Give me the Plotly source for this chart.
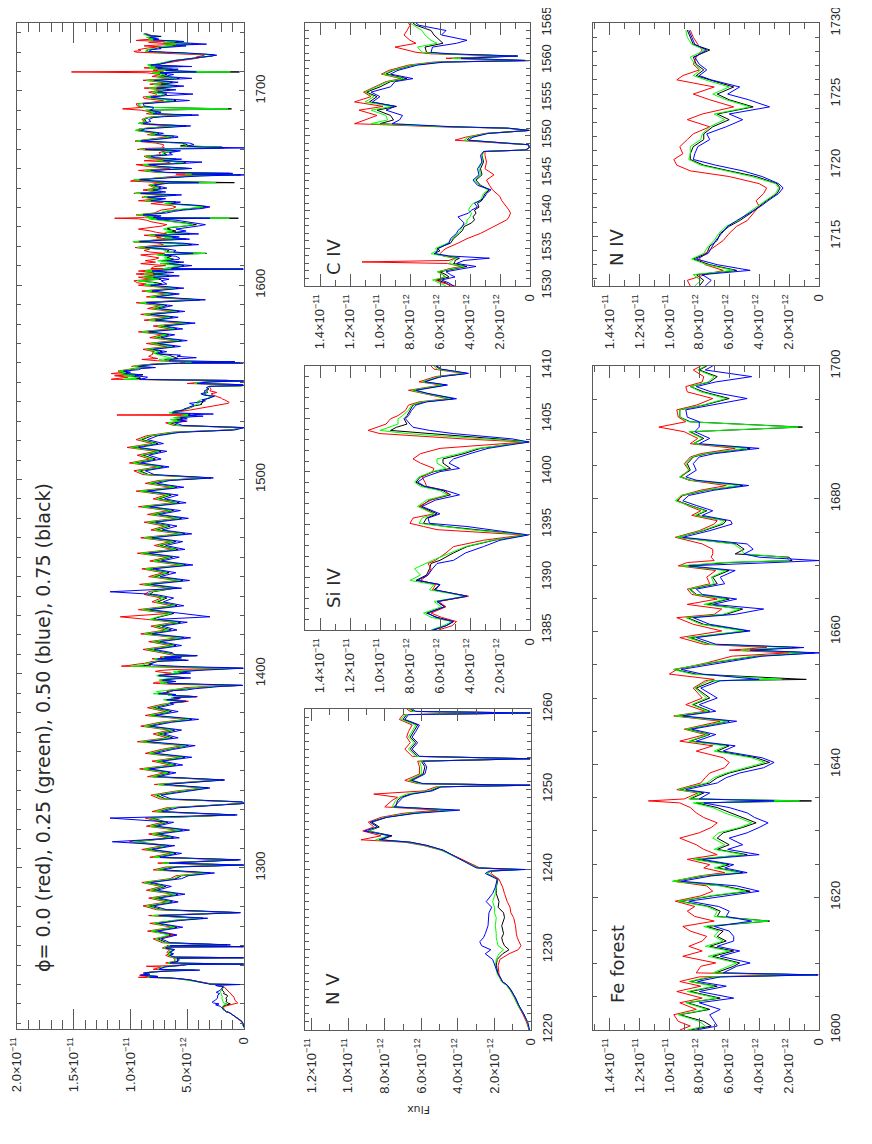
#!/usr/bin/env python3
import plotly.graph_objects as go

# Flux values are in units of 1e-12 (tick labels carry the exponent).

# ---- N V window (1220-1260 A) ----
nv_wave = [1220.0, 1221.0, 1222.0, 1223.0, 1224.0, 1225.0, 1225.6, 1226.0, 1227.0, 1228.0, 1228.8,
           1229.5, 1230.0, 1230.5, 1231.0, 1231.5, 1232.0, 1233.0, 1234.0, 1234.6, 1235.3, 1236.0,
           1237.0, 1237.8, 1238.8, 1239.5, 1239.8, 1240.0, 1240.2, 1240.9, 1241.5, 1242.4, 1243.0,
           1243.4, 1243.7, 1244.2, 1244.8, 1245.3, 1245.9, 1246.5, 1247.0, 1247.4, 1247.8, 1248.6,
           1249.0, 1249.4, 1249.8, 1250.3, 1250.5, 1250.7, 1251.1, 1251.9, 1252.8, 1253.5, 1253.8,
           1254.1, 1255.0, 1255.8, 1256.5, 1257.2, 1258.0, 1258.7, 1259.3, 1259.5, 1259.7, 1260.0]
nv_black = [0.10, 0.20, 0.40, 0.65, 0.85, 1.10, 1.30, 1.55, 1.80, 1.90, 1.85,
            1.55, 1.20, 1.45, 1.55, 1.60, 1.50, 1.60, 1.45, 1.50, 1.80, 1.75,
            1.90, 1.90, 1.80, 2.40, 2.20, 0.60, 2.90, 3.50, 4.05, 4.80, 5.70,
            6.60, 8.20, 7.60, 8.90, 8.30, 8.70, 7.90, 6.50, 4.40, 7.40, 7.30,
            7.10, 6.60, 5.50, 5.00, 0.05, 6.00, 6.60, 5.90, 5.80, 6.00, 0.05,
            6.20, 6.60, 6.30, 6.60, 6.40, 6.20, 7.00, 6.80, 0.05, 6.40, 6.60]
nv_red = [0.10, 0.25, 0.45, 0.70, 0.90, 1.15, 1.35, 1.60, 1.75, 1.80, 1.70,
          1.20, 0.70, 0.55, 0.65, 0.75, 0.80, 0.85, 0.95, 1.10, 1.15, 1.30,
          1.45, 1.55, 1.75, 2.20, 2.10, 1.30, 2.80, 3.40, 4.00, 4.90, 5.90,
          6.90, 9.30, 8.20, 9.20, 8.60, 8.90, 8.20, 7.00, 5.10, 8.00, 7.60,
          7.30, 8.60, 5.80, 5.20, 0.05, 6.20, 6.90, 6.10, 6.10, 6.20, 0.05,
          6.50, 6.90, 6.60, 6.80, 6.70, 6.50, 7.20, 7.00, 0.05, 6.60, 6.80]
nv_green = [0.10, 0.20, 0.40, 0.70, 0.90, 1.15, 1.35, 1.60, 1.85, 1.95, 1.90,
            1.75, 1.50, 1.80, 1.85, 1.90, 1.90, 1.95, 1.90, 2.00, 2.00, 2.10,
            1.95, 1.90, 1.85, 2.40, 2.20, 0.50, 2.90, 3.55, 4.10, 4.90, 5.80,
            6.80, 8.50, 7.80, 8.90, 8.40, 8.80, 8.00, 6.70, 4.20, 7.60, 7.40,
            7.20, 6.80, 5.60, 5.10, 0.05, 6.10, 6.70, 6.00, 6.00, 6.10, 0.05,
            6.30, 6.70, 6.40, 6.70, 6.50, 6.30, 7.10, 6.90, 0.05, 6.50, 6.70]
nv_blue = [0.08, 0.18, 0.40, 0.65, 0.85, 1.10, 1.30, 1.55, 1.80, 1.95, 2.10,
           2.50, 2.20, 2.70, 2.80, 2.60, 2.50, 2.35, 2.30, 2.30, 2.15, 2.45,
           2.10, 1.95, 1.85, 2.50, 2.30, 0.30, 3.00, 3.60, 4.10, 4.80, 5.70,
           6.60, 8.30, 7.70, 9.10, 8.40, 8.80, 7.90, 6.30, 3.90, 7.50, 7.20,
           7.00, 6.50, 5.40, 4.90, 0.05, 5.90, 6.50, 5.80, 5.70, 5.90, 0.05,
           6.10, 6.50, 6.20, 6.50, 6.30, 6.10, 6.90, 6.70, 0.05, 6.30, 6.50]

# ---- Si IV window (1385-1410 A) ----
si_wave = [1385.0, 1385.4, 1385.8, 1386.2, 1386.6, 1387.2, 1387.7, 1388.2, 1388.8, 1389.3,
           1389.7, 1390.2, 1390.8, 1391.3, 1391.6, 1392.3, 1392.9, 1393.5, 1394.0, 1394.5,
           1394.8, 1395.1, 1395.6, 1396.0, 1396.7, 1397.3, 1397.8, 1398.2, 1398.6, 1399.0,
           1399.5, 1400.0, 1400.3, 1400.8, 1401.2, 1401.7, 1402.2, 1402.6, 1402.8, 1403.1,
           1403.6, 1403.9, 1404.2, 1404.5, 1405.0, 1405.3, 1405.8, 1406.3, 1406.6, 1406.9,
           1407.4, 1407.7, 1408.2, 1408.5, 1409.0, 1409.3, 1409.7, 1410.0]
si_black = [6.4, 5.6, 5.1, 6.2, 6.9, 5.7, 6.2, 4.2, 6.4, 6.0,
            7.6, 6.9, 6.7, 6.6, 6.0, 5.1, 4.2, 2.4, 0.2, 3.8,
            5.6, 7.1, 6.9, 6.2, 7.3, 6.7, 5.3, 5.8, 7.1, 7.6,
            7.3, 6.4, 5.3, 5.8, 5.8, 4.4, 3.3, 1.3, 0.1, 2.2,
            6.7, 9.3, 8.9, 8.2, 8.4, 8.2, 8.0, 7.8, 7.1, 5.1,
            6.9, 7.8, 5.6, 7.1, 6.0, 4.2, 6.0, 6.3]
si_red = [6.1, 5.2, 4.9, 5.9, 6.6, 5.6, 6.1, 4.1, 6.5, 6.3,
          7.3, 6.8, 6.6, 6.8, 6.3, 5.6, 5.1, 3.1, 0.4, 6.2,
          7.1, 8.0, 7.8, 6.4, 7.4, 6.6, 5.5, 5.6, 6.9, 7.0,
          7.2, 6.5, 6.4, 7.3, 7.8, 7.3, 6.0, 2.4, 0.3, 4.5,
          10.0, 10.8, 10.2, 9.6, 9.3, 8.8, 8.3, 8.1, 7.4, 5.5,
          7.1, 8.1, 5.9, 7.4, 6.3, 4.4, 6.4, 6.6]
si_green = [6.6, 5.8, 5.2, 6.6, 7.1, 5.9, 6.4, 4.3, 6.7, 6.4,
            8.0, 7.3, 7.7, 7.0, 6.5, 5.3, 4.3, 2.5, 0.2, 4.0,
            5.9, 7.4, 7.2, 6.4, 7.5, 6.9, 5.5, 6.0, 7.3, 7.7,
            7.4, 6.5, 5.6, 6.2, 6.2, 4.7, 3.5, 1.4, 0.1, 3.0,
            8.2, 10.0, 9.4, 8.8, 8.8, 8.5, 8.1, 7.9, 7.2, 5.3,
            7.0, 7.9, 5.8, 7.2, 6.1, 4.3, 6.2, 6.4]
si_blue = [6.5, 5.6, 5.1, 6.3, 6.8, 5.7, 6.2, 4.2, 6.3, 6.0,
           7.5, 6.8, 6.5, 6.2, 5.1, 4.3, 3.1, 2.0, 0.1, 2.8,
           4.2, 6.7, 6.8, 6.0, 7.2, 6.3, 4.7, 5.6, 7.0, 7.5,
           7.0, 6.0, 4.7, 5.4, 5.1, 4.0, 2.8, 1.0, 0.05, 1.2,
           5.1, 6.7, 7.8, 8.0, 8.3, 8.1, 7.9, 7.6, 6.9, 4.9,
           6.8, 7.6, 5.5, 7.0, 5.9, 4.1, 5.9, 6.2]

# ---- C IV window (1530-1565 A) ----
c4_wave = [1530.0, 1530.4, 1530.8, 1531.2, 1531.5, 1531.9, 1532.3, 1532.6, 1533.0, 1533.2,
           1533.4, 1533.7, 1534.0, 1534.3, 1534.7, 1535.0, 1535.7, 1536.3, 1537.0, 1537.4,
           1537.9, 1538.4, 1538.8, 1539.2, 1539.7, 1540.1, 1540.5, 1541.0, 1541.4, 1541.9,
           1542.3, 1542.8, 1543.4, 1544.1, 1544.8, 1545.6, 1546.5, 1547.4, 1547.9, 1548.1,
           1548.4, 1548.8, 1549.0, 1549.4, 1549.8, 1550.3, 1550.7, 1551.0, 1551.2, 1551.6,
           1552.1, 1552.7, 1553.4, 1553.9, 1554.5, 1555.2, 1555.8, 1556.5, 1557.2, 1557.6,
           1558.2, 1558.7, 1559.4, 1559.8, 1560.0, 1560.3, 1560.6, 1560.9, 1561.1, 1561.8,
           1562.3, 1562.7, 1563.4, 1564.0, 1564.7, 1565.0]
c4_black = [5.3, 5.6, 6.2, 5.4, 5.6, 6.0, 5.0, 4.2, 5.1, 5.0,
            5.0, 4.7, 5.6, 6.4, 6.0, 6.2, 5.3, 5.1, 4.7, 4.5,
            4.4, 3.9, 3.7, 3.8, 3.6, 3.7, 3.4, 3.5, 3.2, 3.1,
            3.0, 2.7, 3.3, 3.6, 3.2, 3.3, 3.1, 3.2, 3.1, 0.3,
            0.05, 0.1, 1.6, 4.2, 4.0, 2.9, 0.05, 1.5, 5.6, 10.0,
            9.1, 9.3, 10.2, 8.9, 10.7, 10.2, 10.9, 10.0, 9.3, 8.2,
            9.6, 9.1, 7.8, 6.0, 0.1, 5.0, 0.9, 5.8, 6.9, 7.0,
            5.8, 6.0, 6.4, 6.6, 7.6, 7.8]
c4_red = [5.0, 5.8, 6.3, 5.7, 5.8, 6.1, 5.4, 4.6, 5.5, 11.2,
          5.4, 5.0, 5.8, 6.0, 5.8, 5.6, 4.8, 4.2, 3.3, 2.9,
          2.4, 1.9, 1.55, 1.4, 1.3, 1.4, 1.55, 1.7, 1.9, 2.0,
          2.2, 2.5, 2.7, 2.9, 2.4, 3.0, 2.9, 3.0, 3.0, 0.3,
          0.05, 0.1, 1.8, 5.0, 4.3, 3.0, 0.05, 1.6, 6.2, 11.7,
          11.0, 10.2, 11.4, 9.8, 11.7, 10.6, 11.1, 10.4, 9.6, 8.6,
          9.9, 9.4, 8.1, 6.4, 0.2, 5.6, 1.2, 6.6, 7.6, 9.0,
          7.6, 8.0, 8.4, 8.2, 8.0, 8.1]
c4_green = [5.6, 6.0, 6.5, 5.6, 5.8, 6.2, 5.2, 4.4, 5.4, 5.3,
            5.2, 4.9, 5.9, 6.6, 6.2, 6.3, 5.5, 5.2, 4.8, 4.6,
            4.6, 4.2, 4.2, 4.0, 3.9, 4.1, 4.0, 3.8, 3.3, 3.2,
            3.1, 2.8, 3.4, 3.7, 3.3, 3.4, 3.2, 3.2, 3.1, 0.3,
            0.05, 0.1, 1.7, 4.4, 4.1, 2.9, 0.05, 1.5, 5.8, 10.6,
            9.5, 9.6, 10.6, 9.2, 11.0, 10.4, 11.0, 10.2, 9.5, 8.4,
            9.8, 9.2, 7.9, 6.1, 0.1, 5.2, 1.0, 6.0, 7.2, 7.5,
            6.2, 6.6, 7.0, 7.2, 7.8, 8.0]
c4_blue = [5.1, 5.4, 5.9, 5.0, 5.3, 5.6, 4.5, 3.6, 4.9, 4.7,
           4.4, 2.7, 5.4, 6.3, 6.2, 6.1, 5.4, 5.3, 4.9, 4.8,
           4.5, 4.4, 4.6, 4.8, 4.1, 3.9, 3.5, 3.7, 3.3, 3.0,
           2.9, 2.6, 3.5, 3.8, 3.4, 3.5, 3.2, 3.3, 3.1, 0.3,
           0.05, 0.1, 1.5, 4.1, 3.8, 2.8, 0.05, 1.4, 5.2, 9.2,
           8.7, 8.5, 9.6, 9.0, 10.5, 10.0, 10.6, 9.3, 9.0, 7.8,
           9.3, 8.8, 7.5, 5.7, 0.05, 4.6, 0.8, 5.4, 6.6, 6.5,
           4.9, 4.2, 5.9, 5.6, 7.4, 7.6]

# ---- Fe forest window (1600-1700 A) ----
fe_wave = [1600.0, 1600.6, 1601.3, 1602.3, 1603.1, 1604.1, 1604.8, 1605.8, 1606.6, 1607.3,
           1608.0, 1608.3, 1608.6, 1609.6, 1610.1, 1611.1, 1611.9, 1612.6, 1613.4, 1614.1,
           1614.9, 1615.6, 1616.4, 1617.1, 1617.9, 1618.6, 1619.4, 1620.2, 1620.9, 1621.7,
           1622.4, 1623.2, 1623.7, 1624.4, 1624.9, 1625.7, 1626.4, 1627.2, 1627.9, 1628.9,
           1629.7, 1630.5, 1631.2, 1632.0, 1632.7, 1633.5, 1634.2, 1634.5, 1634.8, 1635.7,
           1636.2, 1637.2, 1638.0, 1638.7, 1639.5, 1640.3, 1641.0, 1642.0, 1642.8, 1643.5,
           1644.5, 1645.3, 1646.5, 1647.3, 1648.0, 1649.0, 1650.0, 1651.5, 1652.6, 1652.8,
           1653.6, 1654.3, 1655.3, 1656.3, 1656.8, 1657.2, 1657.6, 1658.1, 1659.1, 1660.1,
           1661.1, 1662.1, 1662.6, 1663.4, 1664.1, 1664.9, 1665.6, 1666.4, 1667.2, 1668.2,
           1669.2, 1669.9, 1670.4, 1670.7, 1671.2, 1671.7, 1672.4, 1673.2, 1674.2, 1675.2,
           1676.2, 1676.7, 1677.5, 1678.2, 1679.0, 1679.7, 1680.5, 1681.3, 1682.0, 1682.8,
           1683.3, 1684.3, 1685.3, 1686.3, 1686.8, 1687.6, 1688.3, 1689.1, 1690.1, 1690.8,
           1691.6, 1692.3, 1693.4, 1694.1, 1695.1, 1696.1, 1696.9, 1697.6, 1698.4, 1699.4,
           1700.0]
fe_black = [8.6, 7.2, 7.7, 9.3, 7.3, 8.8, 6.6, 8.6, 6.8, 8.6,
            7.1, 0.1, 6.9, 5.7, 5.3, 7.1, 5.7, 7.3, 6.2, 6.8,
            6.4, 7.5, 3.3, 6.8, 6.6, 7.3, 9.3, 7.1, 4.6, 6.4,
            9.7, 7.7, 5.1, 6.8, 6.0, 8.2, 4.8, 6.8, 6.0, 6.8,
            6.4, 5.1, 4.2, 5.1, 6.0, 6.8, 8.2, 0.5, 8.6, 7.7,
            9.3, 7.3, 6.8, 6.0, 4.6, 3.3, 4.2, 6.8, 6.0, 8.6,
            7.3, 8.8, 6.0, 9.5, 7.3, 8.4, 7.3, 8.2, 7.0, 0.85,
            8.2, 9.7, 7.1, 4.2, 0.3, 5.0, 1.3, 7.3, 8.6, 4.8,
            7.7, 8.8, 6.2, 5.1, 7.5, 6.0, 8.2, 8.6, 6.8, 7.1,
            6.0, 9.1, 6.0, 1.8, 2.0, 5.6, 5.0, 5.5, 9.5, 7.7,
            6.4, 6.2, 8.2, 7.5, 8.6, 9.5, 9.1, 7.5, 5.1, 8.6,
            9.3, 8.6, 8.8, 8.4, 7.5, 4.6, 8.4, 7.7, 8.6, 1.1,
            8.6, 9.3, 9.3, 7.7, 6.0, 7.7, 8.6, 7.3, 6.8, 8.0,
            7.5]
fe_red = [9.3, 8.6, 9.4, 9.7, 8.2, 9.3, 7.8, 9.5, 7.9, 9.3,
          8.0, 0.4, 8.2, 7.9, 6.9, 9.1, 7.8, 8.7, 7.8, 7.5,
          8.6, 9.1, 7.0, 8.3, 8.8, 8.3, 9.6, 7.9, 7.1, 7.5,
          9.7, 8.0, 6.3, 7.7, 7.3, 8.8, 6.8, 7.7, 8.2, 9.3,
          8.0, 7.2, 6.8, 7.7, 8.2, 8.6, 9.3, 11.4, 9.0, 8.1,
          9.5, 7.9, 7.6, 7.3, 6.3, 6.0, 6.4, 8.2, 7.1, 9.3,
          7.6, 9.0, 6.6, 9.7, 7.6, 8.9, 7.8, 8.4, 7.6, 7.0,
          10.0, 9.5, 7.5, 5.8, 2.0, 6.0, 3.5, 7.7, 9.3, 6.5,
          8.4, 9.5, 7.0, 6.5, 8.8, 6.8, 8.5, 8.8, 7.3, 7.5,
          6.9, 9.4, 8.8, 7.0, 7.2, 7.1, 7.1, 7.8, 9.6, 8.0,
          7.0, 6.8, 8.5, 7.9, 8.8, 9.4, 9.2, 7.9, 6.2, 8.7,
          9.2, 8.7, 9.0, 8.6, 7.9, 5.6, 8.6, 8.1, 9.0, 10.7,
          8.9, 9.4, 9.5, 8.2, 7.1, 8.8, 8.9, 7.8, 7.7, 8.4,
          7.9]
fe_green = [8.8, 7.6, 8.0, 9.4, 7.5, 8.9, 6.8, 8.8, 7.0, 8.7,
            7.3, 0.2, 7.1, 6.0, 5.5, 7.4, 6.0, 7.6, 6.4, 7.0,
            6.7, 7.7, 3.4, 7.0, 6.8, 7.5, 9.4, 7.3, 4.9, 6.6,
            9.8, 7.9, 5.3, 7.0, 6.2, 8.4, 5.0, 7.0, 6.3, 7.1,
            6.7, 5.3, 4.5, 5.4, 6.3, 7.1, 8.4, 1.3, 8.7, 7.9,
            9.4, 7.5, 7.0, 6.2, 4.9, 3.6, 4.5, 7.0, 6.2, 8.7,
            7.4, 8.9, 6.1, 9.6, 7.4, 8.5, 7.5, 8.3, 7.4, 2.5,
            8.5, 9.7, 7.3, 4.4, 0.6, 5.2, 1.8, 7.4, 8.8, 5.0,
            7.9, 8.9, 6.4, 5.3, 7.7, 6.2, 8.3, 8.7, 7.0, 7.2,
            6.2, 9.2, 6.5, 2.0, 2.2, 5.0, 5.2, 5.7, 9.5, 7.8,
            6.6, 6.3, 8.3, 7.6, 8.7, 9.6, 9.2, 7.6, 5.3, 8.6,
            9.3, 8.7, 8.9, 8.5, 7.6, 4.8, 8.4, 7.8, 8.7, 1.4,
            8.7, 9.3, 9.3, 7.8, 6.2, 7.9, 8.6, 7.4, 7.0, 8.1,
            7.6]
fe_blue = [8.2, 6.8, 7.0, 7.3, 6.6, 8.0, 5.7, 8.0, 6.2, 8.1,
           6.6, 0.05, 6.4, 5.5, 4.6, 6.6, 5.3, 6.8, 5.7, 5.7,
           6.0, 7.0, 4.5, 6.2, 6.0, 6.7, 8.7, 6.0, 4.0, 5.5,
           9.2, 7.2, 4.8, 6.3, 5.7, 7.8, 4.0, 6.1, 5.1, 6.0,
           4.8, 4.0, 3.4, 4.3, 4.8, 6.0, 7.7, 3.0, 8.0, 7.3,
           8.9, 6.8, 6.2, 5.3, 3.7, 3.0, 3.8, 6.4, 5.6, 8.2,
           6.9, 8.5, 5.5, 9.1, 6.9, 8.0, 6.8, 7.9, 6.6, 4.0,
           7.8, 9.2, 6.6, 3.8, 0.0, 4.6, 1.0, 6.9, 8.2, 4.6,
           7.3, 8.4, 5.6, 3.7, 7.1, 5.5, 7.8, 8.2, 6.3, 6.6,
           5.6, 8.7, 3.0, 0.0, 4.0, 5.0, 4.4, 4.8, 9.1, 7.3,
           5.8, 5.9, 7.8, 7.1, 8.2, 9.1, 8.7, 7.0, 4.7, 8.2,
           8.9, 8.2, 8.4, 8.0, 7.0, 4.0, 8.0, 7.3, 8.3, 8.0,
           8.0, 8.8, 8.9, 7.3, 4.8, 7.2, 8.2, 6.9, 4.5, 7.6,
           7.1]

# ---- N IV window (1711.5-1730 A) ----
n4_wave = [1711.5, 1711.9, 1712.3, 1712.6, 1713.0, 1713.4, 1713.8, 1714.3, 1714.7, 1715.2,
           1715.7, 1716.1, 1716.6, 1717.1, 1717.5, 1718.0, 1718.4, 1718.7, 1719.2, 1719.6,
           1720.0, 1720.4, 1720.8, 1721.3, 1721.8, 1722.2, 1722.7, 1723.2, 1723.6, 1724.1,
           1724.6, 1725.0, 1725.5, 1726.0, 1726.3, 1726.7, 1727.1, 1727.6, 1728.1, 1728.5,
           1729.0, 1729.5]
n4_black = [8.0, 7.7, 8.2, 5.5, 7.3, 8.4, 7.5, 7.3, 6.8, 6.6,
            6.0, 5.3, 4.6, 4.0, 3.5, 2.8, 2.6, 2.8, 4.2, 6.0,
            7.7, 8.6, 8.6, 8.4, 7.7, 7.7, 7.1, 6.0, 6.8, 4.4,
            6.0, 6.8, 5.7, 7.3, 8.2, 7.7, 8.2, 8.4, 7.3, 8.4,
            8.6, 8.8]
n4_red = [8.6, 8.8, 7.6, 6.4, 7.6, 8.0, 7.6, 6.9, 6.4, 6.0,
          5.5, 4.8, 4.4, 4.0, 4.2, 3.7, 3.5, 4.0, 6.0, 8.6,
          9.5, 9.7, 9.1, 9.3, 8.8, 8.4, 7.3, 8.8, 7.8, 5.7,
          7.3, 8.4, 7.0, 9.5, 9.1, 8.0, 8.4, 8.2, 7.8, 8.1,
          8.4, 8.6]
n4_green = [8.3, 7.9, 8.4, 5.7, 7.5, 8.5, 7.7, 7.4, 7.0, 6.7,
            6.2, 5.4, 4.8, 4.1, 3.6, 2.9, 2.7, 2.9, 4.5, 6.3,
            7.9, 8.7, 8.6, 8.6, 7.9, 7.8, 7.3, 6.3, 7.0, 4.6,
            6.2, 7.1, 6.0, 7.6, 8.4, 7.9, 8.3, 8.6, 7.6, 8.5,
            8.8, 8.9]
n4_blue = [7.6, 7.2, 7.8, 4.6, 6.8, 8.2, 7.4, 7.1, 6.9, 6.5,
           6.1, 5.5, 4.7, 3.9, 3.4, 2.7, 2.4, 2.7, 3.8, 5.1,
           6.9, 8.4, 8.3, 8.1, 7.3, 7.5, 6.2, 5.1, 6.0, 3.3,
           4.7, 6.1, 5.3, 7.2, 8.0, 7.5, 8.0, 8.3, 7.5, 8.3,
           8.5, 8.7]

# ---- stretches only seen in the full-range panel ----
blue_edge_wave = [1218.0, 1219.0]
blue_edge_black = [0.02, 0.06]
blue_edge_red = [0.02, 0.07]
blue_edge_green = [0.02, 0.06]
blue_edge_blue = [0.02, 0.05]

mid1_wave = [1260.4, 1261.5, 1263.5, 1265.5, 1267.5, 1269.5, 1271.5, 1273.0, 1274.1, 1275.5,
             1277.0, 1278.5, 1280.5, 1282.5, 1284.5, 1286.5, 1288.5, 1290.5, 1292.5, 1294.5,
             1296.0, 1297.4, 1299.0, 1300.5, 1301.5, 1302.5, 1304.2, 1305.5, 1307.5, 1309.5,
             1311.5, 1313.5, 1315.5, 1317.5, 1319.5, 1321.5, 1323.5, 1325.7, 1327.3, 1329.0,
             1331.0, 1333.2, 1334.0, 1335.5, 1337.5, 1339.5, 1341.2, 1343.0, 1345.3, 1347.0,
             1349.0, 1351.0, 1353.0, 1355.0, 1357.0, 1359.0, 1361.0, 1363.0, 1365.0, 1367.0,
             1369.0, 1371.0, 1373.0, 1375.0, 1376.5, 1378.5, 1380.5, 1382.5, 1384.3]
mid1_black = [1.5, 6.8, 7.6, 6.4, 8.0, 5.9, 7.8, 6.1, 3.6, 7.9,
              0.4, 7.2, 8.4, 6.3, 7.9, 5.8, 8.1, 6.9, 8.6, 6.0,
              5.5, 3.0, 7.5, 6.4, 0.1, 7.0, 0.5, 7.8, 6.0, 8.5,
              6.6, 9.6, 6.2, 7.9, 5.4, 8.1, 6.7, 8.2, 0.8, 7.6,
              6.3, 0.1, 0.2, 6.9, 7.7, 5.6, 3.2, 7.4, 1.8, 8.0,
              6.5, 8.7, 6.0, 7.6, 5.2, 8.2, 6.8, 4.9, 8.9, 6.3,
              7.5, 6.1, 8.6, 6.9, 4.6, 8.2, 6.4, 8.0, 6.7]
mid1_red = [1.8, 7.2, 8.0, 6.0, 8.5, 6.3, 8.3, 5.7, 4.0, 8.4,
            0.6, 7.7, 8.9, 6.8, 8.4, 6.2, 8.6, 7.3, 9.0, 6.5,
            6.0, 3.4, 8.0, 6.9, 0.2, 7.6, 0.7, 8.3, 6.5, 9.0,
            7.1, 10.1, 6.7, 8.4, 5.9, 8.6, 7.2, 8.7, 1.0, 8.1,
            6.8, 0.1, 0.3, 7.4, 8.2, 6.1, 3.6, 7.9, 2.2, 8.5,
            7.0, 9.2, 6.5, 8.1, 5.7, 8.7, 7.3, 5.4, 9.4, 6.8,
            8.0, 6.6, 9.1, 7.4, 5.1, 8.7, 6.9, 8.5, 7.2]
mid1_green = [1.6, 7.0, 7.8, 6.6, 8.2, 6.1, 8.0, 6.3, 3.8, 8.1,
              0.5, 7.4, 8.6, 6.5, 8.1, 6.0, 8.3, 7.1, 8.8, 6.2,
              5.7, 3.2, 7.7, 6.6, 0.1, 7.2, 0.6, 8.0, 6.2, 8.7,
              6.8, 9.8, 6.4, 8.1, 5.6, 8.3, 6.9, 8.4, 0.9, 7.8,
              6.5, 0.1, 0.2, 7.1, 7.9, 5.8, 3.4, 7.6, 2.0, 8.2,
              6.7, 8.9, 6.2, 7.8, 5.4, 8.4, 7.0, 5.1, 9.1, 6.5,
              7.7, 6.3, 8.8, 7.1, 4.8, 8.4, 6.6, 8.2, 6.9]
mid1_blue = [1.2, 6.5, 7.3, 5.9, 7.6, 5.4, 7.5, 5.6, 3.2, 7.5,
             0.3, 6.8, 8.0, 5.8, 7.5, 5.2, 7.7, 6.4, 8.2, 5.5,
             4.9, 2.6, 7.1, 5.9, 0.0, 6.6, 0.3, 7.4, 5.5, 8.1,
             6.1, 11.6, 5.7, 7.5, 4.8, 7.7, 6.2, 11.8, 0.6, 7.2,
             5.8, 0.0, 0.1, 6.4, 7.3, 5.0, 3.0, 7.0, 1.7, 7.6,
             6.0, 8.3, 5.4, 7.2, 4.6, 7.8, 6.3, 4.3, 8.5, 5.8,
             7.1, 5.5, 8.2, 6.4, 4.0, 7.8, 5.8, 7.6, 6.2]

mid2_wave = [1410.8, 1412.5, 1414.5, 1416.5, 1418.5, 1420.5, 1422.5, 1424.5, 1426.5, 1428.0,
             1429.3, 1431.0, 1433.0, 1435.0, 1437.0, 1439.0, 1440.8, 1442.2, 1444.0, 1446.0,
             1448.0, 1450.0, 1452.0, 1454.0, 1456.0, 1458.0, 1460.0, 1462.0, 1464.0, 1466.0,
             1468.0, 1470.0, 1472.0, 1474.0, 1476.0, 1478.0, 1480.0, 1482.0, 1484.0, 1486.0,
             1488.0, 1490.0, 1492.0, 1494.0, 1496.0, 1498.0, 1499.5, 1500.8, 1502.5, 1504.5,
             1506.5, 1508.5, 1510.5, 1512.5, 1514.5, 1516.5, 1518.5, 1520.5, 1522.5, 1524.3,
             1525.5, 1526.7, 1527.8, 1529.2]
mid2_black = [6.8, 8.4, 6.0, 7.9, 5.3, 8.6, 6.4, 7.7, 5.6, 8.1,
              7.4, 6.2, 8.8, 5.9, 7.6, 6.8, 8.3, 8.0, 6.1, 8.7,
              5.4, 7.9, 6.6, 8.5, 5.1, 7.8, 6.3, 8.9, 5.8, 7.4,
              6.0, 8.6, 5.2, 7.7, 6.5, 8.3, 5.5, 8.0, 6.2, 8.8,
              5.7, 7.5, 6.4, 9.0, 5.9, 8.2, 7.0, 2.9, 8.4, 9.2,
              7.1, 9.6, 7.8, 8.9, 7.3, 9.8, 7.6, 9.0, 8.1, 6.0,
              1.0, 0.05, 5.8, 6.5]
mid2_red = [7.3, 8.9, 6.5, 8.4, 5.8, 9.1, 6.9, 8.2, 6.1, 8.6,
            10.9, 6.7, 9.3, 6.4, 8.1, 7.3, 8.8, 8.4, 6.6, 9.2,
            5.9, 8.4, 7.1, 9.0, 5.6, 8.3, 6.8, 9.4, 6.3, 7.9,
            6.5, 9.1, 5.7, 8.2, 7.0, 8.8, 6.0, 8.5, 6.7, 9.3,
            6.2, 8.0, 6.9, 9.5, 6.4, 8.7, 7.5, 3.3, 8.9, 9.7,
            7.6, 10.1, 8.3, 9.4, 7.8, 10.3, 8.1, 9.5, 8.6, 6.4,
            1.2, 0.1, 6.2, 6.9]
mid2_green = [7.0, 8.6, 6.2, 8.1, 5.5, 8.8, 6.6, 7.9, 5.8, 8.3,
              7.6, 6.4, 9.0, 6.1, 7.8, 7.0, 8.5, 8.2, 6.3, 8.9,
              5.6, 8.1, 6.8, 8.7, 5.3, 8.0, 6.5, 9.1, 6.0, 7.6,
              6.2, 8.8, 5.4, 7.9, 6.7, 8.5, 5.7, 8.2, 6.4, 9.0,
              5.9, 7.7, 6.6, 9.2, 6.1, 8.4, 7.2, 3.1, 8.6, 9.4,
              7.3, 9.8, 8.0, 9.1, 7.5, 10.0, 7.8, 9.2, 8.3, 6.2,
              1.1, 0.05, 6.0, 6.7]
mid2_blue = [6.3, 7.9, 5.5, 7.4, 4.7, 8.1, 5.9, 7.2, 5.0, 7.6,
             3.0, 5.7, 8.3, 5.3, 7.1, 6.2, 7.8, 11.8, 5.5, 8.2,
             4.8, 7.4, 6.0, 8.0, 4.5, 7.3, 5.7, 8.4, 5.2, 6.9,
             5.4, 8.1, 4.6, 7.2, 5.9, 7.8, 4.9, 7.5, 5.6, 8.3,
             5.1, 7.0, 5.8, 8.5, 5.3, 7.7, 6.5, 2.7, 7.9, 8.7,
             6.6, 9.1, 7.3, 8.4, 6.8, 9.3, 7.1, 8.5, 7.6, 5.6,
             0.8, 0.0, 5.4, 6.1]

mid3_wave = [1565.8, 1567.0, 1568.5, 1570.0, 1571.5, 1573.0, 1574.5, 1576.0, 1577.5, 1579.0,
             1580.5, 1582.0, 1583.5, 1585.0, 1586.5, 1588.0, 1589.5, 1591.0, 1592.5, 1594.0,
             1595.5, 1597.0, 1598.5, 1599.5]
mid3_black = [7.2, 8.4, 6.1, 8.0, 5.5, 7.7, 6.6, 8.8, 5.9, 7.4,
              4.8, 8.2, 6.3, 8.6, 5.7, 7.9, 6.8, 9.0, 3.9, 8.1,
              6.2, 8.5, 5.8, 7.6]
mid3_red = [7.9, 8.9, 6.8, 8.6, 6.1, 8.3, 7.2, 9.3, 6.5, 8.0,
            5.4, 8.8, 6.9, 9.1, 6.3, 8.5, 7.4, 9.5, 4.5, 8.6,
            6.8, 9.0, 6.4, 8.4]
mid3_green = [7.4, 8.6, 6.3, 8.2, 5.7, 7.9, 6.8, 9.0, 6.1, 7.6,
              5.0, 8.4, 6.5, 8.8, 5.9, 8.1, 7.0, 9.2, 4.1, 8.3,
              6.4, 8.7, 6.0, 7.9]
mid3_blue = [6.8, 8.0, 5.6, 7.6, 5.0, 7.3, 6.1, 8.4, 5.4, 7.0,
             4.3, 7.8, 5.8, 8.2, 5.2, 7.5, 6.3, 8.6, 3.4, 7.7,
             5.7, 8.1, 5.3, 7.2]

mid4_wave = [1700.6, 1701.5, 1702.5, 1703.5, 1704.5, 1705.5, 1706.5, 1707.5, 1708.5, 1709.4,
             1709.8, 1710.2, 1710.7, 1711.2]
mid4_black = [6.5, 8.2, 5.9, 7.8, 6.3, 8.4, 5.7, 7.5, 6.8, 7.9, 0.4, 6.0, 7.4, 6.3]
mid4_red = [7.2, 8.8, 6.6, 8.3, 7.0, 8.9, 6.4, 8.1, 7.4, 8.6, 15.2, 7.1, 8.0, 7.0]
mid4_green = [6.8, 8.4, 6.1, 8.0, 6.5, 8.6, 5.9, 7.7, 7.0, 8.1, 1.2, 6.3, 7.6, 6.6]
mid4_blue = [6.0, 7.7, 5.3, 7.3, 5.8, 7.9, 4.6, 7.0, 6.2, 7.4, 4.2, 5.6, 6.9, 5.8]

PHASES = ["black", "red", "green", "blue"]  # drawing order, blue ends on top
COLORS = {"black": "#000000", "red": "#ff0000", "green": "#00ff00", "blue": "#0000ff"}

# the page body keeps its default 8px margin, so the figure is shrunk by it
OFF = 8
W, H = 872 - OFF, 1144 - OFF
FRAME = "#5a5a5a"
TEXT = "#2a2a2a"


def px_x(px):
    return (px - OFF) / W


def px_y(py):
    return 1 - (py - OFF) / H


def seg(wave, black, red, green, blue):
    series = {"black": black, "red": red, "green": green, "blue": blue}
    for name, vals in series.items():
        if len(vals) != len(wave):
            raise ValueError(f"length mismatch in {name}: {len(vals)} vs {len(wave)}")
    return wave, series


def combine(segments):
    rows = []
    for wave, series in segments:
        for i, w in enumerate(wave):
            rows.append((w, [series[p][i] for p in PHASES]))
    rows.sort(key=lambda r: r[0])
    wave = [r[0] for r in rows]
    series = {p: [r[1][k] for r in rows] for k, p in enumerate(PHASES)}
    return wave, series


def flux_label(v):
    if v == 0:
        return "0"
    if v < 10:
        return f"{v:.1f}×10<sup>−12</sup>"
    return f"{v / 10:.1f}×10<sup>−11</sup>"


def make_plot():
    nv = seg(nv_wave, nv_black, nv_red, nv_green, nv_blue)
    si = seg(si_wave, si_black, si_red, si_green, si_blue)
    c4 = seg(c4_wave, c4_black, c4_red, c4_green, c4_blue)
    fe = seg(fe_wave, fe_black, fe_red, fe_green, fe_blue)
    n4 = seg(n4_wave, n4_black, n4_red, n4_green, n4_blue)
    full = combine([
        seg(blue_edge_wave, blue_edge_black, blue_edge_red, blue_edge_green, blue_edge_blue),
        nv,
        seg(mid1_wave, mid1_black, mid1_red, mid1_green, mid1_blue),
        si,
        seg(mid2_wave, mid2_black, mid2_red, mid2_green, mid2_blue),
        c4,
        seg(mid3_wave, mid3_black, mid3_red, mid3_green, mid3_blue),
        fe,
        seg(mid4_wave, mid4_black, mid4_red, mid4_green, mid4_blue),
        n4,
    ])

    # data, pixel box (left, right, top, bottom), wave range, wave dtick/minor,
    # flux max, flux label step, flux tick lengths
    panels = [
        (full, (17, 244, 23, 1029), (1217.1, 1735.0), 100, 10, 20.0, 5, 20, 9),
        (nv, (305, 531, 709, 1030), (1220, 1260), 10, 1, 12.36, 2, 12, 6),
        (si, (305, 530, 366, 630), (1385, 1410), 5, 1, 15.0, 2, 12, 6),
        (c4, (305, 530, 23, 286), (1530, 1565), 5, 1, 15.0, 2, 12, 6),
        (fe, (593, 819, 366, 1030), (1600, 1700), 20, 5, 15.1, 2, 12, 6),
        (n4, (593, 819, 23, 286), (1711.5, 1730), 5, 1, 15.1, 2, 12, 6),
    ]

    fig = go.Figure()
    layout = {}
    for k, (data, box, wrange, wdt, wmin, fmax, fstep, flen, fminlen) in enumerate(panels, start=1):
        sfx = "" if k == 1 else str(k)
        wave, series = data
        for p in PHASES:
            fig.add_trace(go.Scatter(
                x=series[p], y=wave, mode="lines",
                line=dict(color=COLORS[p], width=1),
                xaxis="x" + sfx, yaxis="y" + sfx,
                showlegend=False, hoverinfo="skip",
            ))
        left, right, top, bottom = box
        vals = list(range(0, int(fmax) + 1, fstep))
        layout["xaxis" + sfx] = dict(
            domain=[px_x(left), px_x(right)], anchor="y" + sfx, automargin=False,
            range=[fmax, 0], tickmode="array", tickvals=vals,
            ticktext=[flux_label(v) for v in vals],
            ticks="inside", ticklen=flen, tickwidth=1, tickcolor=FRAME,
            tickangle=-90, tickfont=dict(family="Liberation Sans", size=13, color=TEXT),
            ticklabelstandoff=2, ticklabeloverflow="allow",
            showline=True, linecolor=FRAME, linewidth=1.2, mirror="ticks",
            showgrid=False, zeroline=False,
            minor=dict(ticks="inside", tick0=0, dtick=1, ticklen=fminlen,
                       tickcolor=FRAME, showgrid=False),
        )
        layout["yaxis" + sfx] = dict(
            domain=[px_y(bottom), px_y(top)], anchor="x" + sfx, side="right",
            automargin=False, range=list(wrange), tick0=0, dtick=wdt,
            ticks="inside", ticklen=5, tickwidth=1, tickcolor=FRAME,
            tickangle=-90, tickfont=dict(family="Liberation Sans", size=13, color=TEXT),
            ticklabelstandoff=4, ticklabeloverflow="allow",
            showline=True, linecolor=FRAME, linewidth=1.2, mirror="ticks",
            showgrid=False, zeroline=False,
            minor=dict(ticks="inside", tick0=0, dtick=wmin, ticklen=4,
                       tickcolor=FRAME, showgrid=False),
        )

    labels = [
        ("ϕ= 0.0 (red), 0.25 (green), 0.50 (blue), 0.75 (black)", 43, 728, 19, -90),
        ("N V", 332, 989, 18, -90),
        ("Si IV", 333, 588, 18, -90),
        ("C IV", 333, 257, 18, -90),
        ("Fe forest", 617, 964, 18, -90),
        ("N IV", 617, 248, 18, -90),
        ("Flux", 419, 1110, 11, 180),
    ]
    annotations = [
        dict(text=t, x=px_x(px), y=px_y(py), xref="paper", yref="paper",
             xanchor="center", yanchor="middle", showarrow=False, textangle=ang,
             font=dict(family="DejaVu Sans", size=size, color=TEXT))
        for t, px, py, size, ang in labels
    ]

    fig.update_layout(
        width=W, height=H, autosize=False,
        margin=dict(l=0, r=0, t=0, b=0, autoexpand=False),
        paper_bgcolor="white", plot_bgcolor="white",
        annotations=annotations,
        **layout,
    )
    fig.write_html("out.html")


if __name__ == "__main__":
    make_plot()
